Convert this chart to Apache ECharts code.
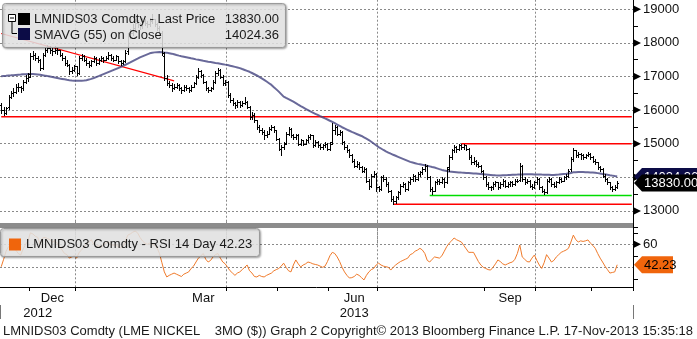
<!DOCTYPE html>
<html>
<head>
<meta charset="utf-8">
<script src="https://cdn.jsdelivr.net/npm/echarts@6/dist/echarts.min.js"></script>
<style>
html, body { margin: 0; padding: 0; background: #fff; }
#chart { width: 697px; height: 339px; }
</style>
</head>
<body>
<div id="chart"></div>
<script>
// LME trading calendar: weekdays, UK bank holidays skipped
const firstDay = '2012-11-15';
const lastDay = '2013-11-25';
const holidays = ['2012-12-25', '2012-12-26', '2013-01-01', '2013-03-29',
  '2013-04-01', '2013-05-06', '2013-05-27', '2013-08-26'];

// LME nickel 3M daily bars (USD/t)
const opens = [
  16150,16000,15900,16080,16400,16500,16550,16700,16680,16650,
  16850,16950,17080,17600,17650,17550,17500,17250,17650,17800,
  17850,17800,17750,17800,17780,17650,17550,17400,17350,17150,
  17200,17300,17100,17550,17600,17500,17400,17350,17450,17550,
  17400,17500,17550,17500,17550,17650,17550,17500,17600,17450,
  17400,17450,17750,18200,18300,18450,18600,18550,18500,18650,
  18600,18550,18650,18700,18550,18450,18300,17600,16950,16800,
  16750,16650,16700,16750,16650,16600,16700,16650,16600,16700,
  16800,17000,17150,17050,16850,16650,16600,16650,16850,17100,
  17200,17000,16800,16850,16450,16300,16200,16150,16250,16150,
  16200,16250,16100,15800,15850,15700,15500,15400,15350,15250,
  15300,15450,15500,15400,15150,14850,14900,15020,15300,15450,
  15250,15200,15250,15000,15100,15000,15100,15200,15250,14950,
  15050,14950,14900,14950,15000,14850,15050,15400,15500,15300,
  15350,15050,14900,14800,14650,14500,14350,14400,14300,14200,
  14250,13900,13750,14050,14100,13700,13650,14000,13950,13800,
  13600,13350,13300,13400,13550,13750,13800,13650,13850,13950,
  14050,13950,14100,14150,14250,14350,14000,13650,13600,13850,
  13900,13850,13950,13850,14300,14600,14800,14900,14850,14950,
  14900,14950,14850,14600,14450,14500,14400,14350,14200,14000,
  13800,13700,13700,13800,13850,13700,13800,13900,13750,13800,
  13850,13800,13900,13920,14350,13950,13850,13900,13750,13700,
  13850,13950,13700,13600,13550,13900,13950,13800,13750,13850,
  13950,13900,14000,14050,14250,14550,14800,14650,14700,14650,
  14600,14650,14700,14600,14500,14450,14300,14250,14050,13950,
  13850,13700,13650,13700
];
const highs = [
  16200,16080,16100,16450,16580,16650,16780,16800,16720,16900,
  17050,17100,17700,17750,17700,17620,17520,17700,17880,17950,
  17900,17850,17900,17880,17800,17700,17600,17480,17380,17280,
  17350,17320,17600,17680,17650,17550,17450,17500,17620,17580,
  17550,17620,17580,17620,17720,17680,17600,17650,17620,17500,
  17500,17800,18300,18400,18550,18700,18680,18600,18750,18720,
  18650,18750,18850,18720,18600,18500,18350,17720,17050,16880,
  16800,16780,16820,16780,16700,16750,16750,16700,16750,16850,
  17050,17250,17200,17080,16880,16700,16700,16900,17150,17250,
  17220,17050,16900,16870,16500,16350,16250,16300,16280,16280,
  16400,16280,16120,15950,15900,15720,15550,15480,15400,15380,
  15500,15550,15520,15420,15180,14950,15050,15350,15500,15480,
  15300,15300,15280,15150,15120,15150,15250,15300,15270,15100,
  15080,15000,15000,15050,15020,15050,15620,15550,15520,15400,
  15380,15080,14950,14850,14700,14550,14500,14450,14350,14300,
  14280,13950,14100,14200,14120,13750,14050,14080,14000,13850,
  13620,13450,13450,13600,13800,13850,13820,13900,14000,14100,
  14080,14150,14200,14300,14400,14370,14050,13700,13900,13950,
  13950,14000,13980,14300,14650,14850,14950,14920,15000,14980,
  15000,14970,14870,14650,14600,14520,14450,14370,14220,14050,
  13850,13750,13850,13900,13870,13850,13950,13920,13850,13900,
  13880,13950,13950,14430,14380,14000,13950,13920,13800,13900,
  14000,13980,13750,13650,13950,14000,13970,13850,13900,14000,
  13980,14050,14100,14250,14600,14870,14820,14750,14720,14700,
  14700,14750,14720,14620,14550,14470,14350,14270,14100,13980,
  13870,13750,13780,13880
];
const lows = [
  15900,15850,15870,16020,16350,16420,16500,16580,16550,16600,
  16800,16880,17000,17520,17480,17420,17180,17230,17600,17720,
  17700,17650,17700,17680,17600,17480,17350,17300,17080,17100,
  17150,17050,17080,17500,17450,17350,17280,17320,17420,17350,
  17380,17450,17420,17480,17520,17500,17450,17480,17400,17350,
  17380,17420,17680,18150,18250,18400,18480,18400,18450,18520,
  18480,18500,18600,18500,18380,18250,17650,16900,16750,16700,
  16580,16620,16650,16600,16500,16560,16600,16550,16580,16680,
  16780,16950,17000,16800,16600,16550,16580,16620,16820,17050,
  16950,16750,16750,16400,16250,16150,16050,16100,16100,16120,
  16180,16050,15750,15750,15650,15450,15350,15300,15150,15200,
  15280,15400,15350,15100,14800,14650,14850,14980,15250,15200,
  15150,15150,14950,14950,14950,14980,15050,15150,14900,14920,
  14900,14850,14850,14900,14800,14820,14980,15300,15250,15250,
  15000,14850,14750,14600,14450,14300,14320,14250,14150,14150,
  13850,13650,13700,14000,13600,13580,13620,13900,13750,13550,
  13300,13200,13250,13350,13500,13700,13600,13620,13800,13900,
  13900,13920,14050,14100,14200,13950,13600,13500,13580,13800,
  13800,13820,13700,13830,14200,14550,14750,14750,14800,14850,
  14850,14800,14550,14400,14400,14350,14300,14150,13950,13750,
  13650,13620,13650,13750,13650,13680,13750,13700,13700,13750,
  13750,13780,13850,13880,13900,13800,13820,13700,13650,13680,
  13800,13650,13550,13500,13530,13850,13750,13700,13720,13820,
  13850,13880,13950,14000,14180,14500,14600,14600,14550,14550,
  14580,14620,14550,14450,14400,14250,14200,14000,13900,13800,
  13650,13600,13620,13680
];
const closes = [
  16000,15900,16050,16400,16500,16550,16700,16680,16650,16850,
  16950,17000,17600,17650,17550,17500,17250,17650,17800,17850,
  17800,17750,17800,17780,17650,17550,17400,17350,17150,17200,
  17300,17100,17550,17600,17500,17400,17350,17450,17550,17400,
  17500,17550,17500,17550,17650,17550,17500,17600,17450,17400,
  17450,17700,18200,18300,18450,18600,18550,18500,18650,18600,
  18550,18650,18700,18550,18450,18300,17700,16950,16800,16750,
  16650,16700,16750,16650,16600,16700,16650,16600,16700,16800,
  17000,17150,17050,16850,16650,16600,16650,16850,17100,17200,
  17000,16800,16850,16450,16300,16200,16150,16250,16150,16200,
  16250,16100,15800,15850,15700,15500,15400,15350,15250,15300,
  15450,15500,15400,15150,14850,14900,15000,15300,15450,15250,
  15200,15250,15000,15100,15000,15100,15200,15250,14950,15050,
  14950,14900,14950,15000,14850,15000,15400,15500,15300,15350,
  15050,14900,14800,14650,14500,14350,14400,14300,14200,14250,
  13900,13750,14050,14100,13700,13650,14000,13950,13800,13600,
  13350,13300,13400,13550,13750,13800,13650,13850,13950,14050,
  13950,14100,14150,14250,14350,14000,13650,13600,13850,13900,
  13850,13950,13850,14250,14600,14800,14900,14850,14950,14900,
  14950,14850,14600,14450,14500,14400,14350,14200,14000,13800,
  13700,13700,13800,13850,13700,13800,13900,13750,13800,13850,
  13800,13900,13900,14350,13950,13850,13900,13750,13700,13850,
  13950,13700,13600,13550,13900,13950,13800,13750,13850,13950,
  13900,14000,14050,14200,14550,14800,14650,14700,14650,14600,
  14650,14700,14600,14500,14450,14300,14250,14050,13950,13850,
  13700,13650,13700,13830
];
// 55-day simple moving average of the close
const sma55 = [
  17010,17018,17024,17031,17035,17040,17047,17053,17058,17066,
  17070,17072,17074,17075,17068,17060,17050,17038,17025,17012,
  17000,16985,16970,16955,16940,16928,16915,16902,16890,16882,
  16876,16872,16870,16870,16878,16890,16908,16930,16955,16983,
  17010,17040,17070,17100,17130,17160,17190,17220,17250,17280,
  17315,17350,17385,17420,17458,17495,17532,17570,17600,17630,
  17660,17690,17705,17718,17725,17730,17722,17715,17710,17695,
  17680,17660,17640,17622,17605,17590,17575,17560,17543,17527,
  17510,17496,17482,17468,17455,17442,17430,17418,17405,17393,
  17380,17367,17353,17340,17322,17304,17286,17268,17250,17222,
  17195,17168,17140,17104,17067,17030,16990,16945,16900,16850,
  16800,16750,16683,16617,16550,16475,16400,16362,16325,16288,
  16250,16207,16163,16120,16080,16040,16000,15960,15925,15890,
  15855,15820,15787,15753,15720,15683,15647,15610,15570,15530,
  15490,15455,15420,15385,15350,15320,15290,15260,15230,15190,
  15150,15110,15058,15005,14953,14900,14857,14813,14770,14737,
  14703,14670,14640,14610,14580,14550,14520,14490,14460,14440,
  14420,14400,14387,14373,14360,14342,14325,14307,14290,14267,
  14243,14220,14203,14187,14170,14164,14158,14152,14146,14140,
  14135,14130,14125,14120,14115,14110,14105,14100,14092,14084,
  14076,14068,14060,14058,14057,14055,14059,14063,14066,14070,
  14074,14078,14081,14085,14087,14089,14090,14089,14088,14086,
  14085,14083,14080,14078,14075,14073,14071,14070,14077,14083,
  14090,14097,14103,14110,14130,14150,14153,14157,14160,14157,
  14153,14150,14145,14140,14135,14124,14113,14101,14090,14077,
  14063,14050,14037,14024.36
];
// 14-day RSI
const rsi14 = [
  40.5,47,54,58,59,56,55,52,50.7,56,
  60,63,70,69,67,66,60,65.5,66,65,
  64,62,63,61,58,55,52,51,48,49,
  50,48,53,55,58,60,62,64,60,58,
  59,57,60,61,62,60,59,60,58,57,
  58,63,68,69,70.5,71.5,70,66,63,61,
  60,61,60,59,57,52,44,36,31.6,33,
  34,35,34,33,32,34,35,36,39,41,
  44.6,48,50,52,47,44.6,46,49,51,52,
  48,44.6,43,40,37,35,33,35,36,38,
  40,42,37,35,32,31.6,33,32,31.6,33,
  34,35,37,38,39,41,43.6,40,37,36,
  42,46.4,43,40.3,42,43,44.6,44,43,42.5,
  42,41,40,41,45,50,53,52,49,45,
  40,36,33,30.7,31,32,34,33,31,29,
  33,36,38,39,42,43.6,42,41,40.5,40,
  37.6,40,42,43.6,45,46,47,48,51,52,
  54,55,56.5,55,52,46,44.6,47,49,48.5,
  48,50,54,58,61,63,65.5,64,63,62,
  59,56,53,53,53,49,45,42,40,39,
  38,37.6,40,43,46.4,45,43,42,43,44,
  44.6,47,52,59.4,49,47,45,44.6,48,50.7,
  46,42,39,44,51,48,44.6,46,49,51,
  53,54,55,56.5,62,68,64,62,63,62.5,
  63,63.8,61,59,56.5,52,48,44.6,41,38,
  35,35.5,36,42.23
];

// Support / resistance levels drawn from a start date to the right edge
const levelValues = [15800, 15000, 13200, 13460];
const levelStarts = ['2012-11-15', '2013-08-16', '2013-07-09', '2013-07-30'];
const levelColors = ['#ff0000', '#ff0000', '#ff0000', '#00dd00'];
// Falling trend line (date, price)
const trendDates = ['2012-11-15', '2013-02-27'];
const trendValues = [18280, 16870];

const priceTicks = [13000, 14000, 15000, 16000, 17000, 18000, 19000];
const rsiTicks = [60];
const monthNames = { '2012-12': 'Dec', '2013-03': 'Mar', '2013-06': 'Jun', '2013-09': 'Sep' };
const yearNames = ['2012', '2013'];
const tickMonths = ['12', '01', '04', '05', '06', '07', '09', '10', '11'];
const gridMonths = ['01', '04', '07', '10'];

const lastPrice = '13830.00';
const lastSma = '14024.36';
const lastRsi = '42.23';
const footer = 'LMNIDS03 Comdty (LME NICKEL    3MO ($)) Graph 2 Copyright\u00a9 2013 Bloomberg Finance L.P. 17-Nov-2013 15:35:18';

function tradingDays(from, to, skip) {
  const out = [];
  const d = new Date(from + 'T00:00:00Z');
  const end = new Date(to + 'T00:00:00Z');
  while (d <= end) {
    const wd = d.getUTCDay();
    const s = d.toISOString().slice(0, 10);
    if (wd !== 0 && wd !== 6 && skip.indexOf(s) < 0) out.push(s);
    d.setUTCDate(d.getUTCDate() + 1);
  }
  return out;
}
const days = tradingDays(firstDay, lastDay, holidays);
const n = days.length;

// first trading day of each month
const monthFirst = days.map((d, i) => i > 0 && d.slice(0, 7) !== days[i - 1].slice(0, 7));
// label positions: middle trading day of the labelled months / years
const monthLabelIdx = {};
Object.keys(monthNames).forEach(m => {
  const idx = days.map((d, i) => d.slice(0, 7) === m ? i : -1).filter(i => i >= 0);
  monthLabelIdx[Math.round((idx[0] + idx[idx.length - 1]) / 2)] = monthNames[m];
});
const yearLabelIdx = {};
yearNames.forEach(y => {
  const idx = days.map((d, i) => d.slice(0, 4) === y ? i : -1).filter(i => i >= 0);
  yearLabelIdx[Math.round((idx[0] + idx[idx.length - 1]) / 2)] = y;
});

const FONT = '"Liberation Sans", Arial, sans-serif';
const dotted = { color: '#8a8a8a', width: 1, type: [2, 2] };

const chart = echarts.init(document.getElementById('chart'), null, { renderer: 'canvas', width: 697, height: 339 });

const ohlcData = closes.map((c, i) => [i, opens[i], highs[i], lows[i], c]);

const levelSeries = levelValues.map((v, k) => ({
  type: 'line', xAxisIndex: 0, yAxisIndex: 0, symbol: 'none', z: 3, silent: true,
  lineStyle: { color: levelColors[k], width: 1.5 },
  data: [[levelStarts[k], v], [days[n - 1], v]]
}));

const option = {
  animation: false,
  backgroundColor: '#ffffff',
  grid: [
    { left: 0, right: 64, top: -24.3, height: 268.8, outerBoundsMode: 'none', containLabel: false },
    { left: 0, right: 64, top: 221.3, height: 69, outerBoundsMode: 'none', containLabel: false }
  ],
  xAxis: [
    {
      type: 'category', gridIndex: 0, data: days, boundaryGap: true,
      axisLine: { show: false }, axisTick: { show: false }, axisLabel: { show: false },
      splitLine: { show: true, lineStyle: dotted,
        interval: (i, v) => monthFirst[i] && gridMonths.indexOf(v.slice(5, 7)) >= 0 }
    },
    {
      type: 'category', gridIndex: 1, data: days, boundaryGap: true, position: 'bottom', offset: -3.3,
      axisLine: { show: true, lineStyle: { color: '#000', width: 1 } },
      axisTick: { show: true, length: 4, lineStyle: { color: '#000' },
        interval: (i, v) => monthFirst[i] && tickMonths.indexOf(v.slice(5, 7)) >= 0 },
      axisLabel: { show: true, margin: 5, fontSize: 13, fontFamily: FONT, color: '#111',
        interval: (i) => monthLabelIdx[i] !== undefined,
        formatter: (v, i) => monthLabelIdx[i] || '' },
      splitLine: { show: true, lineStyle: dotted,
        interval: (i, v) => monthFirst[i] && gridMonths.indexOf(v.slice(5, 7)) >= 0 }
    },
    {
      type: 'category', gridIndex: 1, data: days, boundaryGap: true, position: 'bottom', offset: 14.7,
      axisLine: { show: false },
      axisTick: { show: true, length: 14, lineStyle: { color: '#777' },
        interval: (i, v) => monthFirst[i] && v.slice(5, 7) === '01' },
      axisLabel: { show: true, margin: 2, fontSize: 13, fontFamily: FONT, color: '#111',
        interval: (i) => yearLabelIdx[i] !== undefined,
        formatter: (v, i) => yearLabelIdx[i] || '' },
      splitLine: { show: false }
    }
  ],
  yAxis: [
    {
      type: 'value', gridIndex: 0, position: 'right', min: 12000, max: 20000, interval: 1000,
      axisLine: { show: false }, axisTick: { show: false },
      minorTick: { show: true, splitNumber: 2, length: 5, lineStyle: { color: '#000' } },
      minorSplitLine: { show: false },
      splitLine: { show: true, showMinLine: false, showMaxLine: false, lineStyle: dotted },
      axisLabel: { margin: 10, fontSize: 13, fontFamily: FONT, color: '#111',
        formatter: v => (priceTicks.indexOf(v) >= 0 ? String(v) : '') }
    },
    {
      type: 'value', gridIndex: 1, position: 'right', min: 20, max: 80, interval: 20,
      axisLine: { show: false }, axisTick: { show: false },
      minorTick: { show: true, splitNumber: 2, length: 5, lineStyle: { color: '#000' } },
      splitLine: { show: true, showMinLine: false, showMaxLine: false, lineStyle: dotted },
      axisLabel: { margin: 10, fontSize: 13, fontFamily: FONT, color: '#111',
        formatter: v => (rsiTicks.indexOf(v) >= 0 ? String(v) : '') }
    }
  ],
  series: [
    ...levelSeries,
    {
      type: 'line', name: 'trend', xAxisIndex: 0, yAxisIndex: 0, symbol: 'none', z: 3, silent: true,
      lineStyle: { color: '#ff0000', width: 1.2 },
      data: trendDates.map((d, k) => [d, trendValues[k]])
    },
    {
      type: 'line', name: 'SMAVG (55) on Close', xAxisIndex: 0, yAxisIndex: 0, symbol: 'none', z: 4,
      lineStyle: { color: '#44447f', width: 2, opacity: 0.8 },
      data: sma55
    },
    {
      type: 'custom', name: 'Last Price', xAxisIndex: 0, yAxisIndex: 0, z: 5,
      data: ohlcData,
      encode: { x: 0, y: [1, 2, 3, 4] },
      renderItem: function (params, api) {
        const i = api.value(0);
        const o = api.coord([i, api.value(1)]);
        const h = api.coord([i, api.value(2)]);
        const l = api.coord([i, api.value(3)]);
        const c = api.coord([i, api.value(4)]);
        const cx = Math.round(o[0]) + 0.5;
        const oy = Math.round(o[1]) + 0.5;
        const cy = Math.round(c[1]) + 0.5;
        const st = { stroke: '#000', lineWidth: 1 };
        return {
          type: 'group', children: [
            { type: 'line', shape: { x1: cx, y1: Math.round(h[1]), x2: cx, y2: Math.round(l[1]) + 1 }, style: st },
            { type: 'line', shape: { x1: cx - 1.5, y1: oy, x2: cx, y2: oy }, style: st },
            { type: 'line', shape: { x1: cx, y1: cy, x2: cx + 1.5, y2: cy }, style: st }
          ]
        };
      }
    },
    {
      type: 'line', name: 'RSI 14 Day', xAxisIndex: 1, yAxisIndex: 1, symbol: 'none', z: 4,
      lineStyle: { color: '#f07a2a', width: 1 },
      data: rsi14
    }
  ]
};

chart.setOption(option);

// Overlay: legends, panel divider, axis arrows, last-value tags, footer
function buildOverlay() {
  const g = [];
  const ax = 633.5;
  const yP = v => chart.convertToPixel({ yAxisIndex: 0 }, v);
  const yR = v => chart.convertToPixel({ yAxisIndex: 1 }, v);

  g.push({ type: 'rect', z: 100, shape: { x: 0, y: 223, width: 633, height: 5 }, style: { fill: '#8c8c8c' } });
  g.push({ type: 'line', z: 101, shape: { x1: ax, y1: 0, x2: ax, y2: 287 }, style: { stroke: '#000', lineWidth: 1 } });

  const arrow = y => ({ type: 'polygon', z: 101,
    shape: { points: [[634, y - 3.5], [634, y + 3.5], [641, y]] }, style: { fill: '#000' } });
  priceTicks.forEach(v => g.push(arrow(yP(v))));
  rsiTicks.forEach(v => g.push(arrow(yR(v))));

  const tag = (y, x2, fill, text, color, z) => {
    g.push({ type: 'polygon', z: z,
      shape: { points: [[634, y], [642, y - 8.5], [x2, y - 8.5], [x2, y + 8.5], [642, y + 8.5]] },
      style: { fill: fill } });
    g.push({ type: 'text', z: z + 1, x: 644, y: y + 0.5,
      style: { text: text, fill: color, font: '13px ' + FONT, verticalAlign: 'middle', align: 'left' } });
  };
  tag(yP(parseFloat(lastSma)), 700, '#0c0c46', lastSma, '#fff', 110);
  tag(yP(parseFloat(lastPrice)), 700, '#000000', lastPrice, '#fff', 112);
  tag(yR(parseFloat(lastRsi)), 673, '#f0650c', lastRsi, '#000', 110);

  // price legend
  g.push({ type: 'rect', z: 100, shape: { x: 2.5, y: 3.5, width: 283, height: 44, r: 3 },
    style: { fill: 'rgba(238,238,238,0.82)', stroke: '#9a9a9a', lineWidth: 1,
      shadowBlur: 2, shadowOffsetX: 1, shadowOffsetY: 1, shadowColor: 'rgba(0,0,0,0.35)' } });
  g.push({ type: 'rect', z: 101, shape: { x: 8.5, y: 14.5, width: 7, height: 7 }, style: { fill: '#fff', stroke: '#000', lineWidth: 1 } });
  g.push({ type: 'line', z: 102, shape: { x1: 10, y1: 18, x2: 14, y2: 18 }, style: { stroke: '#000', lineWidth: 1 } });
  g.push({ type: 'polyline', z: 101, shape: { points: [[12, 21.5], [12, 33.5], [17, 33.5]] }, style: { stroke: '#000', lineWidth: 1, fill: null } });
  g.push({ type: 'rect', z: 101, shape: { x: 18, y: 13, width: 12, height: 12 }, style: { fill: '#000' } });
  g.push({ type: 'rect', z: 101, shape: { x: 18, y: 28, width: 12, height: 12 }, style: { fill: '#0c0c46' } });
  const legendText = (text, x, y, align) => g.push({ type: 'text', z: 102, x: x, y: y,
    style: { text: text, fill: '#1a1a1a', font: '13px ' + FONT, verticalAlign: 'middle', align: align } });
  legendText('LMNIDS03 Comdty - Last Price', 34, 19.5, 'left');
  legendText(lastPrice, 279, 19.5, 'right');
  legendText('SMAVG (55) on Close', 34, 35, 'left');
  legendText(lastSma, 279, 35, 'right');

  // RSI legend
  g.push({ type: 'rect', z: 100, shape: { x: 0.5, y: 228.5, width: 259, height: 28, r: 3 },
    style: { fill: 'rgba(238,238,238,0.82)', stroke: '#9a9a9a', lineWidth: 1,
      shadowBlur: 2, shadowOffsetX: 1, shadowOffsetY: 1, shadowColor: 'rgba(0,0,0,0.35)' } });
  g.push({ type: 'rect', z: 101, shape: { x: 9, y: 238.5, width: 12, height: 12 }, style: { fill: '#f0650c' } });
  legendText('LMNIDS03 Comdty - RSI 14 Day ' + lastRsi, 26, 244.5, 'left');

  // footer
  g.push({ type: 'text', z: 102, x: 3, y: 331,
    style: { text: footer, fill: '#1a1a1a', font: '13px ' + FONT, verticalAlign: 'middle', align: 'left' } });
  return g;
}

chart.setOption({ graphic: { elements: buildOverlay() } });
</script>
</body>
</html>
